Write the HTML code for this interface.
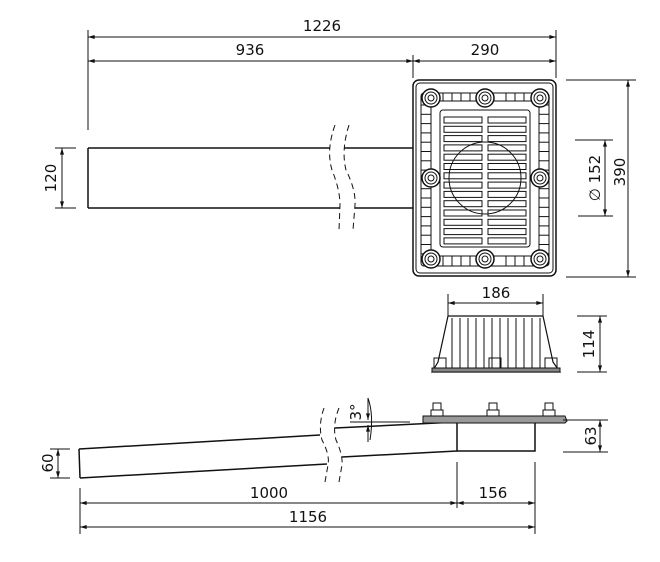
<!DOCTYPE html>
<html><head><meta charset="utf-8"><style>html,body{margin:0;padding:0;background:#fff}svg{display:block}text{font-family:"DejaVu Sans","Liberation Sans",sans-serif;font-size:15px;fill:#111}</style></head>
<body>
<svg id="s" width="660" height="562" viewBox="0 0 660 562" xmlns="http://www.w3.org/2000/svg">
<defs>
<marker id="a" viewBox="0 0 10 6" refX="10" refY="3" markerWidth="8" markerHeight="4" orient="auto-start-reverse" markerUnits="userSpaceOnUse"><path d="M0,0L10,3L0,6z" fill="#111"/></marker>
</defs>
<g stroke="#111" stroke-width="1" fill="none">
<!-- top dims -->
<line x1="88" y1="30" x2="88" y2="130"/>
<line x1="556" y1="30" x2="556" y2="78"/>
<line x1="413" y1="55" x2="413" y2="78"/>
<line x1="88" y1="37" x2="556" y2="37" marker-start="url(#a)" marker-end="url(#a)"/>
<line x1="88" y1="61" x2="413" y2="61" marker-start="url(#a)" marker-end="url(#a)"/>
<line x1="413" y1="61" x2="556" y2="61" marker-start="url(#a)" marker-end="url(#a)"/>
<!-- 120 -->
<line x1="55" y1="148" x2="76" y2="148"/><line x1="55" y1="208" x2="76" y2="208"/>
<line x1="62" y1="148" x2="62" y2="208" marker-start="url(#a)" marker-end="url(#a)"/>
<!-- top pipe -->
<g stroke-width="1.5">
<line x1="88" y1="148" x2="330" y2="148"/><line x1="344" y1="148" x2="413" y2="148"/>
<line x1="88" y1="208" x2="340" y2="208"/><line x1="355" y1="208" x2="413" y2="208"/>
<line x1="88" y1="148" x2="88" y2="208"/>
</g>
<path d="M335,125 Q326,150 332,170 Q340,190 340,205 L339,230" stroke-dasharray="6,4"/>
<path d="M349,125 Q341,150 346,170 Q356,190 355,205 L353,230" stroke-dasharray="6,4"/>
<!-- grate -->
<rect x="413" y="80" width="143" height="196" rx="6" stroke-width="1.5"/>
<rect x="416" y="83" width="137" height="190" rx="4"/>
<rect x="421" y="93" width="128" height="173" rx="3"/>
<rect x="431" y="101" width="108" height="155"/>
<rect x="440" y="110" width="90" height="137" rx="3"/>
<circle cx="485" cy="178" r="36"/>
<g id="slots"></g>
<g id="bolts"></g>
<!-- right dims -->
<line x1="566" y1="80" x2="636" y2="80"/><line x1="566" y1="277" x2="636" y2="277"/>
<line x1="628" y1="80" x2="628" y2="277" marker-start="url(#a)" marker-end="url(#a)"/>
<line x1="575" y1="140" x2="613" y2="140"/><line x1="578" y1="216" x2="613" y2="216"/>
<line x1="605" y1="140" x2="605" y2="216" marker-start="url(#a)" marker-end="url(#a)"/>
<!-- side view -->
<line x1="448" y1="294" x2="448" y2="316"/><line x1="543" y1="294" x2="543" y2="316"/>
<line x1="448" y1="303" x2="543" y2="303" marker-start="url(#a)" marker-end="url(#a)"/>
<path d="M448,316 L543,316 L553,362 L560,372 L432,372 L438,362 Z" stroke-width="1.2"/>
<rect x="432" y="368" width="128" height="4" fill="#888"/>
<rect x="434" y="358" width="12" height="10"/><rect x="489" y="358" width="12" height="10"/><rect x="545" y="358" width="12" height="10"/>
<g id="ribs"></g>
<line x1="577" y1="316" x2="607" y2="316"/><line x1="577" y1="372" x2="607" y2="372"/>
<line x1="600" y1="316" x2="600" y2="372" marker-start="url(#a)" marker-end="url(#a)"/>
<!-- bottom view -->
<g stroke-width="1.5">
<line x1="79" y1="449" x2="320" y2="435"/>
<line x1="80" y1="478" x2="327" y2="464"/>
<line x1="79" y1="449" x2="80" y2="478"/>
<line x1="335" y1="428" x2="457" y2="422"/>
<line x1="342" y1="457" x2="457" y2="451"/>
<rect x="457" y="422" width="78" height="29"/>
</g>
<path d="M324,408 Q318,425 322,440 Q330,455 328,465 L325,482" stroke-dasharray="6,4"/>
<path d="M339,408 Q332,425 336,440 Q343,455 342,465 L339,482" stroke-dasharray="6,4"/>
<path d="M423,416 L565,416 L567,421 L565,423 L423,423 Z" fill="#999" stroke-width="1"/>
<g id="bbolts"></g>
<line x1="350" y1="422" x2="410" y2="422"/>
<path d="M368,398 Q374,415 370,440"/>
<line x1="368" y1="398" x2="368" y2="420" marker-end="url(#a)"/>
<line x1="368" y1="442" x2="368" y2="425" marker-end="url(#a)"/>
<line x1="563" y1="420" x2="608" y2="420"/><line x1="563" y1="452" x2="608" y2="452"/>
<line x1="600" y1="420" x2="600" y2="452" marker-start="url(#a)" marker-end="url(#a)"/>
<line x1="50" y1="449" x2="70" y2="449"/><line x1="50" y1="478" x2="70" y2="478"/>
<line x1="58" y1="449" x2="58" y2="478" marker-start="url(#a)" marker-end="url(#a)"/>
<line x1="80" y1="488" x2="80" y2="534"/>
<line x1="457" y1="462" x2="457" y2="508"/>
<line x1="535" y1="462" x2="535" y2="534"/>
<line x1="80" y1="503" x2="457" y2="503" marker-start="url(#a)" marker-end="url(#a)"/>
<line x1="457" y1="503" x2="535" y2="503" marker-start="url(#a)" marker-end="url(#a)"/>
<line x1="80" y1="527" x2="535" y2="527" marker-start="url(#a)" marker-end="url(#a)"/>
</g>
<text x="322" y="31" text-anchor="middle">1226</text>
<text x="250" y="55" text-anchor="middle">936</text>
<text x="485" y="55" text-anchor="middle">290</text>
<text x="496" y="298" text-anchor="middle">186</text>
<text x="269" y="498" text-anchor="middle">1000</text>
<text x="493" y="498" text-anchor="middle">156</text>
<text x="308" y="522" text-anchor="middle">1156</text>
<text transform="translate(56,178) rotate(-90)" text-anchor="middle">120</text>
<text transform="translate(600,178) rotate(-90)" text-anchor="middle">∅ 152</text>
<text transform="translate(625,172) rotate(-90)" text-anchor="middle">390</text>
<text transform="translate(594,344) rotate(-90)" text-anchor="middle">114</text>
<text transform="translate(596,436) rotate(-90)" text-anchor="middle">63</text>
<text transform="translate(53,463) rotate(-90)" text-anchor="middle">60</text>
<text transform="translate(361,412) rotate(-90)" text-anchor="middle">3°</text>
</svg>
<script>
var N="http://www.w3.org/2000/svg";
function el(p,t,a){var e=document.createElementNS(N,t);for(var k in a)e.setAttribute(k,a[k]);document.getElementById(p).appendChild(e);}
for(var i=0;i<14;i++){var y=117+i*9.3;el("slots","rect",{x:444,y:y,width:38,height:6});el("slots","rect",{x:488,y:y,width:38,height:6});}
for(var i=0;i<12;i++){var x=434+i*9;if(x>470&&x<500)continue;el("slots","line",{x1:x,y1:93,x2:x,y2:101});el("slots","line",{x1:x,y1:256,x2:x,y2:266});}
for(var i=0;i<17;i++){var y=105+i*9.3;el("slots","line",{x1:421,y1:y,x2:431,y2:y});el("slots","line",{x1:539,y1:y,x2:549,y2:y});}
[[431,98],[485,98],[540,98],[431,178],[540,178],[431,259],[485,259],[540,259]].forEach(function(c){el("bolts","circle",{cx:c[0],cy:c[1],r:9,fill:"#fff","stroke-width":1.5});el("bolts","circle",{cx:c[0],cy:c[1],r:6});el("bolts","circle",{cx:c[0],cy:c[1],r:3});});
for(var i=0;i<12;i++){var x=452+i*8;el("ribs","line",{x1:x,y1:318,x2:x,y2:368});}
[437,493,549].forEach(function(x){el("bbolts","rect",{x:x-4,y:403,width:8,height:7});el("bbolts","rect",{x:x-6,y:410,width:12,height:6});});
</script>
</body></html>
